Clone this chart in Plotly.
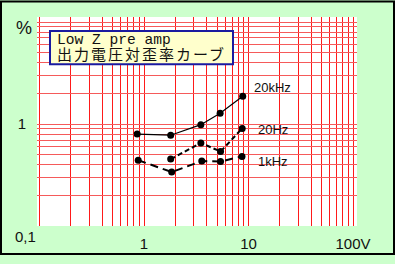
import math
import plotly.graph_objects as go

# Output voltage (V) and THD (%)
volts_20k = [0.86, 1.8, 3.5, 5.35, 8.8]
thd_20k = [0.80, 0.78, 0.99, 1.28, 1.88]
volts_20 = [1.8, 3.5, 5.4, 8.7]
thd_20 = [0.455, 0.655, 0.54, 0.91]
volts_1k = [0.88, 1.84, 3.57, 5.4, 8.66]
thd_1k = [0.444, 0.34, 0.435, 0.431, 0.484]

series_names = ["20kHz", "20Hz", "1kHz"]
label_pos = [(17.0, 2.30), (17.0, 0.897), (17.0, 0.4286)]

grid_vals = [m * 10 ** e for e in (-1, 0, 1) for m in range(1, 10)] + [100]
x_ticktext = ["1" if v == 1 else "10" if v == 10 else "100V" if v == 100 else "" for v in grid_vals]
y_vals = [m * 10 ** e for e in (-1, 0) for m in range(1, 10)] + [10]
y_ticktext = ["1" if v == 1 else "" for v in y_vals]

W, H = 395, 264
L, R, T, B = 37, 38, 17, 30
PW, PH = W - L - R, H - T - B


def px(x):
    return (x - L) / PW


def py(y):
    return (H - B - y) / PH


fig = go.Figure()
styles = [
    dict(color="black", width=1.2, dash="solid"),
    dict(color="black", width=2, dash="5px,3px"),
    dict(color="black", width=2, dash="8px,5px"),
]
for (xs, ys), st, name in zip(
    [(volts_20k, thd_20k), (volts_20, thd_20), (volts_1k, thd_1k)], styles, series_names
):
    fig.add_trace(go.Scatter(
        x=xs, y=ys, mode="lines+markers", name=name,
        line=st, marker=dict(color="black", size=7),
        showlegend=False,
    ))

annotations = []
for name, (lx, ly) in zip(series_names, label_pos):
    annotations.append(dict(
        x=math.log10(lx), y=math.log10(ly), xref="x", yref="y", text=name,
        xanchor="center", yanchor="middle",
        showarrow=False, font=dict(family="Liberation Sans, Arial", size=13, color="#111"),
    ))

title_text = (
    '<span style="font-family:Liberation Mono, DejaVu Sans Mono;font-size:14.6px">Low Z pre amp</span><br>'
    '<span style="font-family:Noto Sans CJK JP;font-size:15px;letter-spacing:2px">出力電圧対歪率カーブ</span>'
)

annotations += [
    dict(x=px(23.7), y=py(28), xref="paper", yref="paper", text="%", showarrow=False,
         xanchor="center", yanchor="middle",
         font=dict(family="Liberation Sans, Arial", size=18, color="#111")),
    dict(x=px(25), y=py(245), xref="paper", yref="paper", text="0,1", showarrow=False,
         xanchor="center", yanchor="middle",
         font=dict(family="Liberation Sans, Arial", size=15, color="#111")),
    dict(x=px(55), y=py(49), xref="paper", yref="paper", text=title_text,
         xanchor="left", yanchor="middle", align="left", showarrow=False,
         font=dict(family="Noto Sans CJK JP", size=12, color="#111")),
]

shapes = [
    dict(type="rect", xref="paper", yref="paper", x0=px(50), x1=px(233), y0=py(31.5), y1=py(66),
         fillcolor="#ffffcc", line=dict(color="#1a1aa0", width=2), layer="above"),
    dict(type="rect", xref="paper", yref="paper", x0=px(1), x1=px(394), y0=py(1), y1=py(263),
         fillcolor="rgba(0,0,0,0)", line=dict(color="black", width=2), layer="above"),
]

fig.update_layout(
    width=W, height=H,
    margin=dict(l=L, r=R, t=T, b=B, pad=0),
    paper_bgcolor="#ccffcc", plot_bgcolor="white",
    annotations=annotations, shapes=shapes,
    xaxis=dict(type="log", range=[-1.024, 2.038], tickvals=grid_vals, ticktext=x_ticktext,
               showgrid=True, gridcolor="#ff1a1a", gridwidth=1, ticks="", showline=False,
               zeroline=False, tickfont=dict(family="Liberation Sans, Arial", size=15, color="#111"),
               ticklabelstandoff=7),
    yaxis=dict(type="log", range=[-0.997, 1.050], tickvals=y_vals, ticktext=y_ticktext,
               showgrid=True, gridcolor="#f55a5a", gridwidth=1, ticks="", showline=False,
               zeroline=False, tickfont=dict(family="Liberation Sans, Arial", size=15, color="#111"),
               ticklabelstandoff=10),
)
fig.write_html("out.html")
